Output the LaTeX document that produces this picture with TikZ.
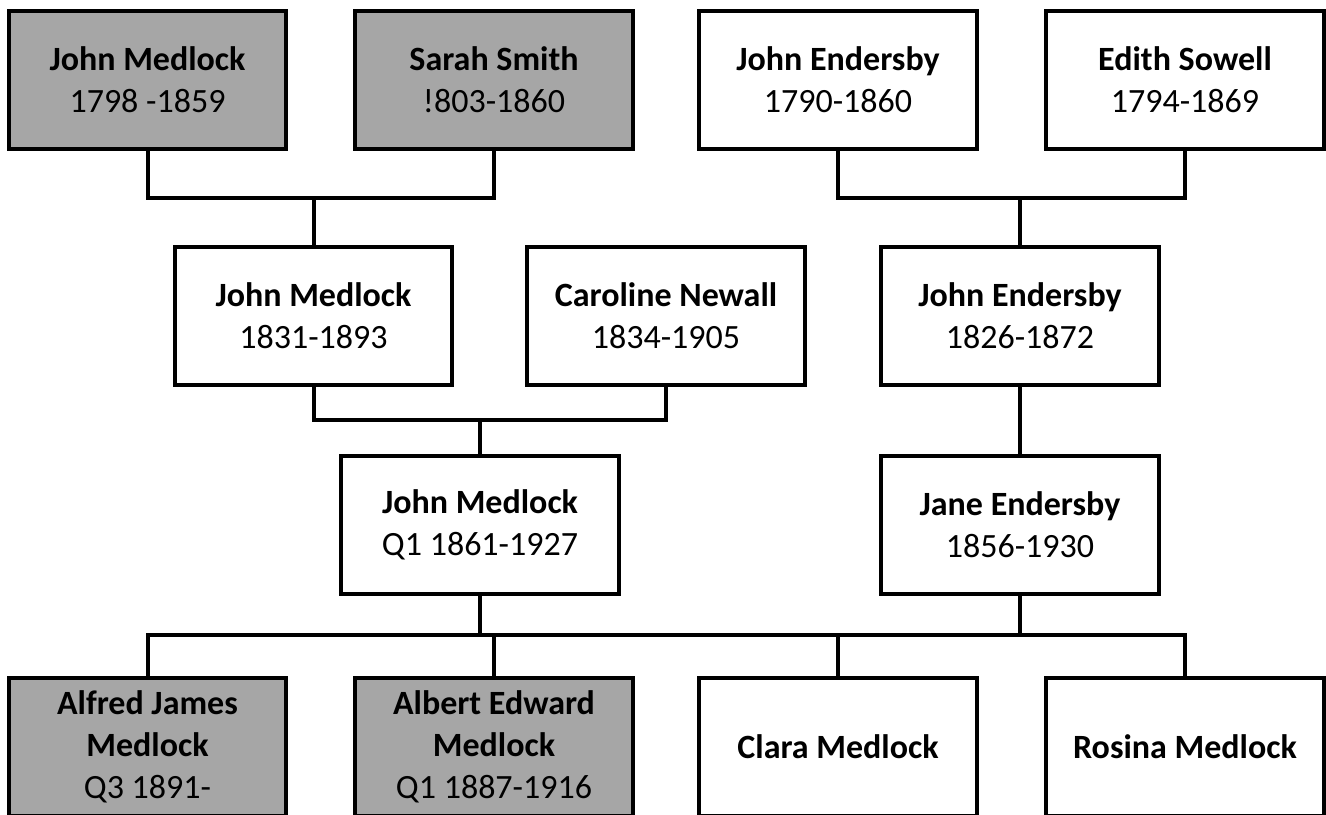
\documentclass[tikz,border=0pt]{standalone}
\usepackage{fontspec}
\setmainfont{Carlito}
\definecolor{boxgray}{RGB}{166,166,166}
\tikzset{
  person/.style={draw=black, line width=3pt, fill=white, rectangle,
    minimum width=208pt, minimum height=104pt, inner sep=0pt, align=center,
    font=\fontsize{25.5}{31.5}\selectfont},
  dead/.style={person, fill=boxgray},
  link/.style={line width=3pt, line cap=rect, line join=miter}
}
\begin{document}
\begin{tikzpicture}[x=0.75pt, y=-0.75pt]
\useasboundingbox (0,0) rectangle (1326,814);
% top row
\node[dead]   (jm1) at (147.5,80) {\textbf{John Medlock}\\1798 -1859};
\node[dead]   (ss)  at (494,80)   {\textbf{Sarah Smith}\\!803-1860};
\node[person] (je1) at (838,80)   {\textbf{John Endersby}\\1790-1860};
\node[person] (es)  at (1185,80)  {\textbf{Edith Sowell}\\1794-1869};
% middle row
\node[person] (jm2) at (313.5,316) {\textbf{John Medlock}\\1831-1893};
\node[person] (cn)  at (666,316)   {\textbf{Caroline Newall}\\1834-1905};
\node[person] (je2) at (1020,316)  {\textbf{John Endersby}\\1826-1872};
% third row
\node[person] (jm3) at (480,525)  {\textbf{John Medlock}\\Q1 1861-1927};
\node[person] (jane) at (1020,525) {\textbf{Jane Endersby}\\1856-1930};
% bottom row
\node[dead]   (aj) at (147.5,747) {\textbf{Alfred James}\\\textbf{Medlock}\\Q3 1891-};
\node[dead]   (ae) at (494,747)   {\textbf{Albert Edward}\\\textbf{Medlock}\\Q1 1887-1916};
\node[person] (cm) at (838,747)   {\textbf{Clara Medlock}};
\node[person] (rm) at (1185,747)  {\textbf{Rosina Medlock}};
% junction coordinates
\coordinate (u1) at (313.5,198);
\coordinate (u2) at (1020,198);
\coordinate (u3) at (480,420);
\coordinate (bar) at (0,635);
\coordinate (bm) at (480,635);
\coordinate (bj) at (1020,635);
% connectors
\draw[link] (jm1.south) -- (jm1.south |- u1) -- (ss.south |- u1) -- (ss.south);
\draw[link] (u1) -- (jm2.north);
\draw[link] (je1.south) -- (je1.south |- u2) -- (es.south |- u2) -- (es.south);
\draw[link] (u2) -- (je2.north);
\draw[link] (jm2.south) -- (jm2.south |- u3) -- (cn.south |- u3) -- (cn.south);
\draw[link] (u3) -- (jm3.north);
\draw[link] (je2.south) -- (jane.north);
\draw[link] (jm3.south) -- (bm);
\draw[link] (jane.south) -- (bj);
\draw[link] (aj.north) -- (aj.north |- bar) -- (rm.north |- bar) -- (rm.north);
\draw[link] (ae.north) -- (ae.north |- bar);
\draw[link] (cm.north) -- (cm.north |- bar);
\end{tikzpicture}
\end{document}
